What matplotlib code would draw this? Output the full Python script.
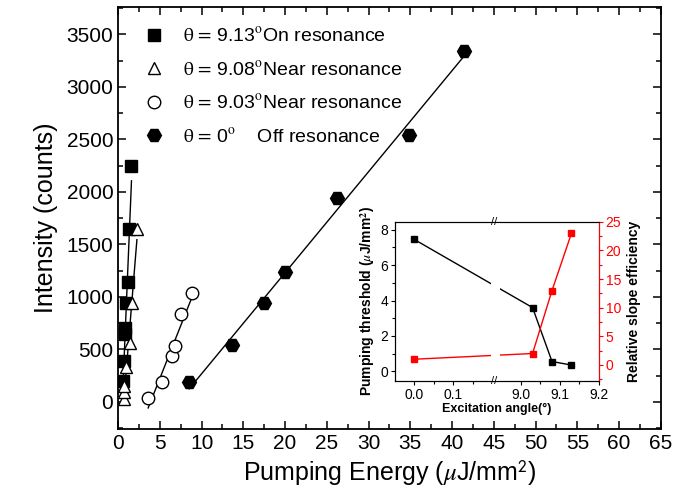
import numpy as np
import matplotlib
matplotlib.use("Agg")
import matplotlib.pyplot as plt
from matplotlib.ticker import MultipleLocator, FixedLocator

plt.rcParams['font.family'] = ['Liberation Sans', 'DejaVu Sans']
plt.rcParams['mathtext.fontset'] = 'stix'

### DATA
# theta = 9.13 deg, on resonance
on_x = [0.55, 0.76, 0.84, 0.88, 0.92, 1.24, 1.35, 1.6]
on_y = [195, 385, 650, 700, 945, 1140, 1645, 2250]
# theta = 9.08 deg, near resonance
near1_x = [0.72, 0.74, 0.76, 0.95, 1.4, 1.7, 2.25]
near1_y = [30, 90, 150, 335, 560, 940, 1645]
# theta = 9.03 deg, near resonance
near2_x = [3.6, 5.3, 6.5, 6.8, 7.55, 8.9]
near2_y = [40, 190, 435, 535, 840, 1040]
# theta = 0 deg, off resonance
off_x = [8.5, 13.6, 17.5, 20.0, 26.2, 34.8, 41.4]
off_y = [185, 540, 940, 1240, 1940, 2540, 3340]

# inset
ang = [0.0, 9.03, 9.08, 9.13]
thr = [7.45, 3.6, 0.55, 0.35]
slope_eff = [1, 2, 13, 23]

labels = [r"$\mathrm{\theta\,=\,}$9.13$^{\rm o}$On resonance",
          r"$\mathrm{\theta\,=\,}$9.08$^{\rm o}$Near resonance",
          r"$\mathrm{\theta\,=\,}$9.03$^{\rm o}$Near resonance",
          r"$\mathrm{\theta\,=\,}$0$^{\rm o}$    Off resonance"]

fig = plt.figure(figsize=(6.75, 4.99), dpi=100)
ax = fig.add_axes([0.175, 0.140, 0.804, 0.846])

series = [(on_x, on_y, 's', 'black', 8),
          (near1_x, near1_y, '^', 'white', 9),
          (near2_x, near2_y, 'o', 'white', 9),
          (off_x, off_y, 'H', 'black', 10)]
handles = []
for (xs, ys, m, fc, ms), lab in zip(series, labels):
    h, = ax.plot(xs, ys, m, mfc=fc, mec='black', ms=ms, mew=1, ls='none', label=lab, zorder=3)
    handles.append(h)
    # linear fit
    p = np.polyfit(xs, ys, 1)
    xf = np.array([min(xs), max(xs)])
    ax.plot(xf, np.polyval(p, xf), 'k-', lw=1, zorder=2)

ax.set_xlim(0, 65)
ax.set_ylim(-260, 3760)
ax.xaxis.set_major_locator(MultipleLocator(5))
ax.xaxis.set_minor_locator(MultipleLocator(2.5))
ax.yaxis.set_major_locator(MultipleLocator(500))
ax.yaxis.set_minor_locator(MultipleLocator(250))
ax.tick_params(which='both', direction='in', top=True, right=True, labelsize=15, width=1.1)
ax.tick_params(which='major', length=6)
ax.tick_params(which='minor', length=3.5)
for s in ax.spines.values():
    s.set_linewidth(1.3)
ax.set_xlabel(r"Pumping Energy ($\mu$J/mm$^{\mathsf{2}}$)", fontsize=18, labelpad=4)
ax.set_ylabel("Intensity (counts)", fontsize=18, labelpad=6)

ax.legend(handles=handles, loc='upper left', bbox_to_anchor=(0.012, 0.995), frameon=False,
          fontsize=14, handlelength=1.2, handletextpad=0.9, labelspacing=0.75)

# INSET with broken x axis
a, b, k = 0.205, 8.94, 0.001

def fwd(x):
    x = np.asarray(x, float)
    return np.where(x <= a, x, np.where(x >= b, x - (b - a) * (1 - k), a + (x - a) * k))

def inv(y):
    y = np.asarray(y, float)
    c = a + (b - a) * k
    return np.where(y <= a, y, np.where(y >= c, y + (b - a) * (1 - k), a + (y - a) / k))

axi = fig.add_axes([0.585, 0.2365, 0.302, 0.319])
axi.set_xscale('function', functions=(fwd, inv))
axi.plot(ang, thr, 'k-', lw=1, marker='s', ms=5, zorder=2)
axi.set_xlim(-0.05, 9.2)
axi.set_ylim(-0.55, 8.45)
axi.xaxis.set_major_locator(FixedLocator([0.0, 0.1, 9.0, 9.1, 9.2]))
axi.xaxis.set_minor_locator(FixedLocator([0.05, 0.15, 9.05, 9.15]))
axi.set_xticklabels(["0.0", "0.1", "9.0", "9.1", "9.2"])
axi.yaxis.set_major_locator(MultipleLocator(2))
axi.yaxis.set_minor_locator(MultipleLocator(1))
axi.tick_params(which='both', direction='out', labelsize=10, width=0.8, pad=2)
axi.tick_params(which='major', length=3)
axi.tick_params(which='minor', length=2)
axi.set_xlabel("Excitation angle(°)", fontsize=9, fontweight='bold', labelpad=1)
axi.set_ylabel(r"Pumping threshold ($\mu$J/mm$^{\mathbf{2}}$)", fontsize=10, fontweight='bold', labelpad=2)

axr = axi.twinx()
axr.plot(ang, slope_eff, 'r-', lw=1, marker='s', ms=5, zorder=2)
axr.set_ylim(-2.8, 25)
axr.yaxis.set_major_locator(MultipleLocator(5))
axr.yaxis.set_minor_locator(MultipleLocator(2.5))
axr.tick_params(which='both', direction='out', colors='red', labelsize=10, width=0.8, pad=2)
axr.tick_params(which='major', length=3)
axr.tick_params(which='minor', length=2)
axr.spines['right'].set_color('red')
axr.set_ylabel("Relative slope efficiency", fontsize=10, fontweight='bold', labelpad=4)

# gap in the lines at the axis break, plus break marks
axr.axvspan(a - 0.007, b + 0.007, color='white', zorder=2.2, lw=0)
for yy in (0, 1):
    axr.text(a, yy, "//", transform=axr.get_xaxis_transform(), ha='center', va='center',
             fontsize=8, zorder=5)

fig.savefig("out.png", dpi=100)
